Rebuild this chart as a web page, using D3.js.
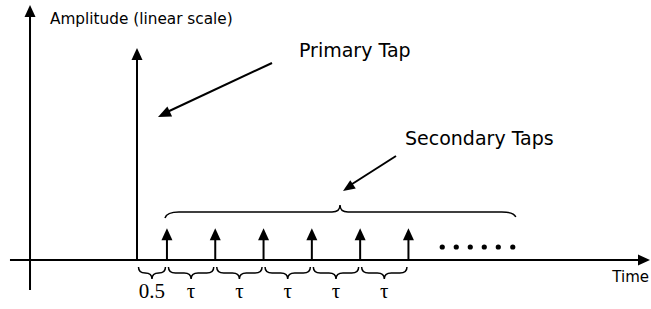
<!DOCTYPE html>
<html><head><meta charset="utf-8">
<script src="https://cdn.jsdelivr.net/npm/d3@7"></script>
<style>html,body{margin:0;padding:0;background:#fff;}svg{display:block;}</style>
</head><body>
<script>
// ---- data (time in units of tau, amplitude linear) ----
const primaryTime = 0;
const primaryAmp = 1.0;
const secondaryTimes = [0.62, 1.62, 2.62, 3.62, 4.62, 5.62];
const secondaryAmp = 0.15;
const dotTimes = [6.32, 6.61, 6.9, 7.19, 7.48, 7.78];
const intervalLabels = ["0.5", "τ", "τ", "τ", "τ", "τ"];
const axisTitleY = "Amplitude (linear scale)";
const axisTitleX = "Time";
const annotations = ["Primary Tap", "Secondary Taps"];

const W = 651, H = 309;
const svg = d3.select("body").append("svg").attr("width", W).attr("height", H);

const x = d3.scaleLinear().domain([0, 1]).range([137, 185.3]);
const y = d3.scaleLinear().domain([0, 1]).range([260, 48]);

const sans = "'DejaVu Sans', Verdana, sans-serif";
const serif = "'Liberation Serif', 'Times New Roman', serif";

function arrowHead(g, tipX, tipY, dir, len, wid) {
  let pts;
  if (dir === "up") pts = [[tipX, tipY], [tipX - wid/2, tipY + len], [tipX + wid/2, tipY + len]];
  else if (dir === "right") pts = [[tipX, tipY], [tipX - len, tipY - wid/2], [tipX - len, tipY + wid/2]];
  else {
    const [dx, dy] = dir; const n = Math.hypot(dx, dy); const ux = dx/n, uy = dy/n;
    const bx = tipX - ux*len, by = tipY - uy*len;
    pts = [[tipX, tipY], [bx - uy*wid/2, by + ux*wid/2], [bx + uy*wid/2, by - ux*wid/2]];
  }
  g.append("path").attr("d", "M" + pts.map(p => p.join(",")).join("L") + "Z").attr("fill", "#000");
}

const g = svg.append("g");

// Axes
const xAxisY = y(0);
const yAxisX = x(-2.215);
g.append("line").attr("x1", x(-2.63)).attr("x2", W - 8).attr("y1", xAxisY).attr("y2", xAxisY)
  .attr("stroke", "#000").attr("stroke-width", 2);
arrowHead(g, W - 1, xAxisY, "right", 12, 11);
g.append("line").attr("x1", yAxisX).attr("x2", yAxisX).attr("y1", 290).attr("y2", 14)
  .attr("stroke", "#000").attr("stroke-width", 2);
arrowHead(g, yAxisX, 5, "up", 12, 11);

// Primary tap
g.append("line").attr("x1", x(primaryTime)).attr("x2", x(primaryTime))
  .attr("y1", y(0)).attr("y2", y(primaryAmp) + 10).attr("stroke", "#000").attr("stroke-width", 2);
arrowHead(g, x(primaryTime), y(primaryAmp), "up", 12, 11);

// Secondary taps
secondaryTimes.forEach(t => {
  g.append("line").attr("x1", x(t)).attr("x2", x(t)).attr("y1", y(0)).attr("y2", y(secondaryAmp) + 10)
    .attr("stroke", "#000").attr("stroke-width", 2);
  arrowHead(g, x(t), y(secondaryAmp), "up", 12, 11);
});

// Dots
g.selectAll("circle.dot").data(dotTimes).enter().append("circle")
  .attr("cx", d => x(d)).attr("cy", 247).attr("r", 2.6).attr("fill", "#000");

// Brace path helper
function brace(x1, x2, y0, d) {
  const xm = (x1 + x2) / 2, h = d / 2;
  const r = Math.min(7, (x2 - x1) / 4);
  return `M${x1},${y0} Q${x1},${y0 + h} ${x1 + r},${y0 + h} L${xm - r},${y0 + h} Q${xm},${y0 + h} ${xm},${y0 + d}` +
    ` Q${xm},${y0 + h} ${xm + r},${y0 + h} L${x2 - r},${y0 + h} Q${x2},${y0 + h} ${x2},${y0}`;
}

// Interval braces below axis
const starts = [primaryTime].concat(secondaryTimes.slice(0, -1));
intervalLabels.forEach((lab, i) => {
  const a = x(starts[i]) + 1.5, b = x(secondaryTimes[i]) - 1.5;
  g.append("path").attr("d", brace(a, b, 267, 12)).attr("fill", "none").attr("stroke", "#000").attr("stroke-width", 1.5);
  g.append("text").attr("x", (a + b) / 2).attr("y", 298).attr("text-anchor", "middle")
    .attr("font-family", serif).attr("font-size", 21).text(lab);
});

// Top brace over secondary taps
const bx1 = x(secondaryTimes[0]) - 2, bx2 = x(dotTimes[dotTimes.length - 1]) + 3;
(function () {
  const y0 = 218, ym = 212, xm = 340;
  const p = `M${bx1},${y0} Q${bx1 + 2},${ym} ${bx1 + 14},${ym} L${xm - 8},${ym} Q${xm},${ym} ${xm},${205}` +
    ` Q${xm},${ym} ${xm + 8},${ym} L${bx2 - 14},${ym} Q${bx2 - 2},${ym} ${bx2},${y0 - 1}`;
  g.append("path").attr("d", p).attr("fill", "none").attr("stroke", "#000").attr("stroke-width", 1.5);
})();

// Annotation arrows
g.append("line").attr("x1", 272).attr("y1", 63).attr("x2", 165).attr("y2", 113).attr("stroke", "#000").attr("stroke-width", 2);
arrowHead(g, 158, 117, [158 - 272, 117 - 63], 13, 11);
g.append("line").attr("x1", 396).attr("y1", 156).attr("x2", 349).attr("y2", 186).attr("stroke", "#000").attr("stroke-width", 2);
arrowHead(g, 343, 191, [343 - 396, 191 - 156], 12, 10);

// Texts
g.append("text").attr("x", 50).attr("y", 24).attr("font-family", sans).attr("font-size", 15.3).text(axisTitleY);
g.append("text").attr("x", 299).attr("y", 57).attr("font-family", sans).attr("font-size", 19).text(annotations[0]);
g.append("text").attr("x", 405).attr("y", 145).attr("font-family", sans).attr("font-size", 19).text(annotations[1]);
g.append("text").attr("x", 649).attr("y", 282).attr("text-anchor", "end").attr("font-family", sans).attr("font-size", 15).text(axisTitleX);
</script>
</body></html>
